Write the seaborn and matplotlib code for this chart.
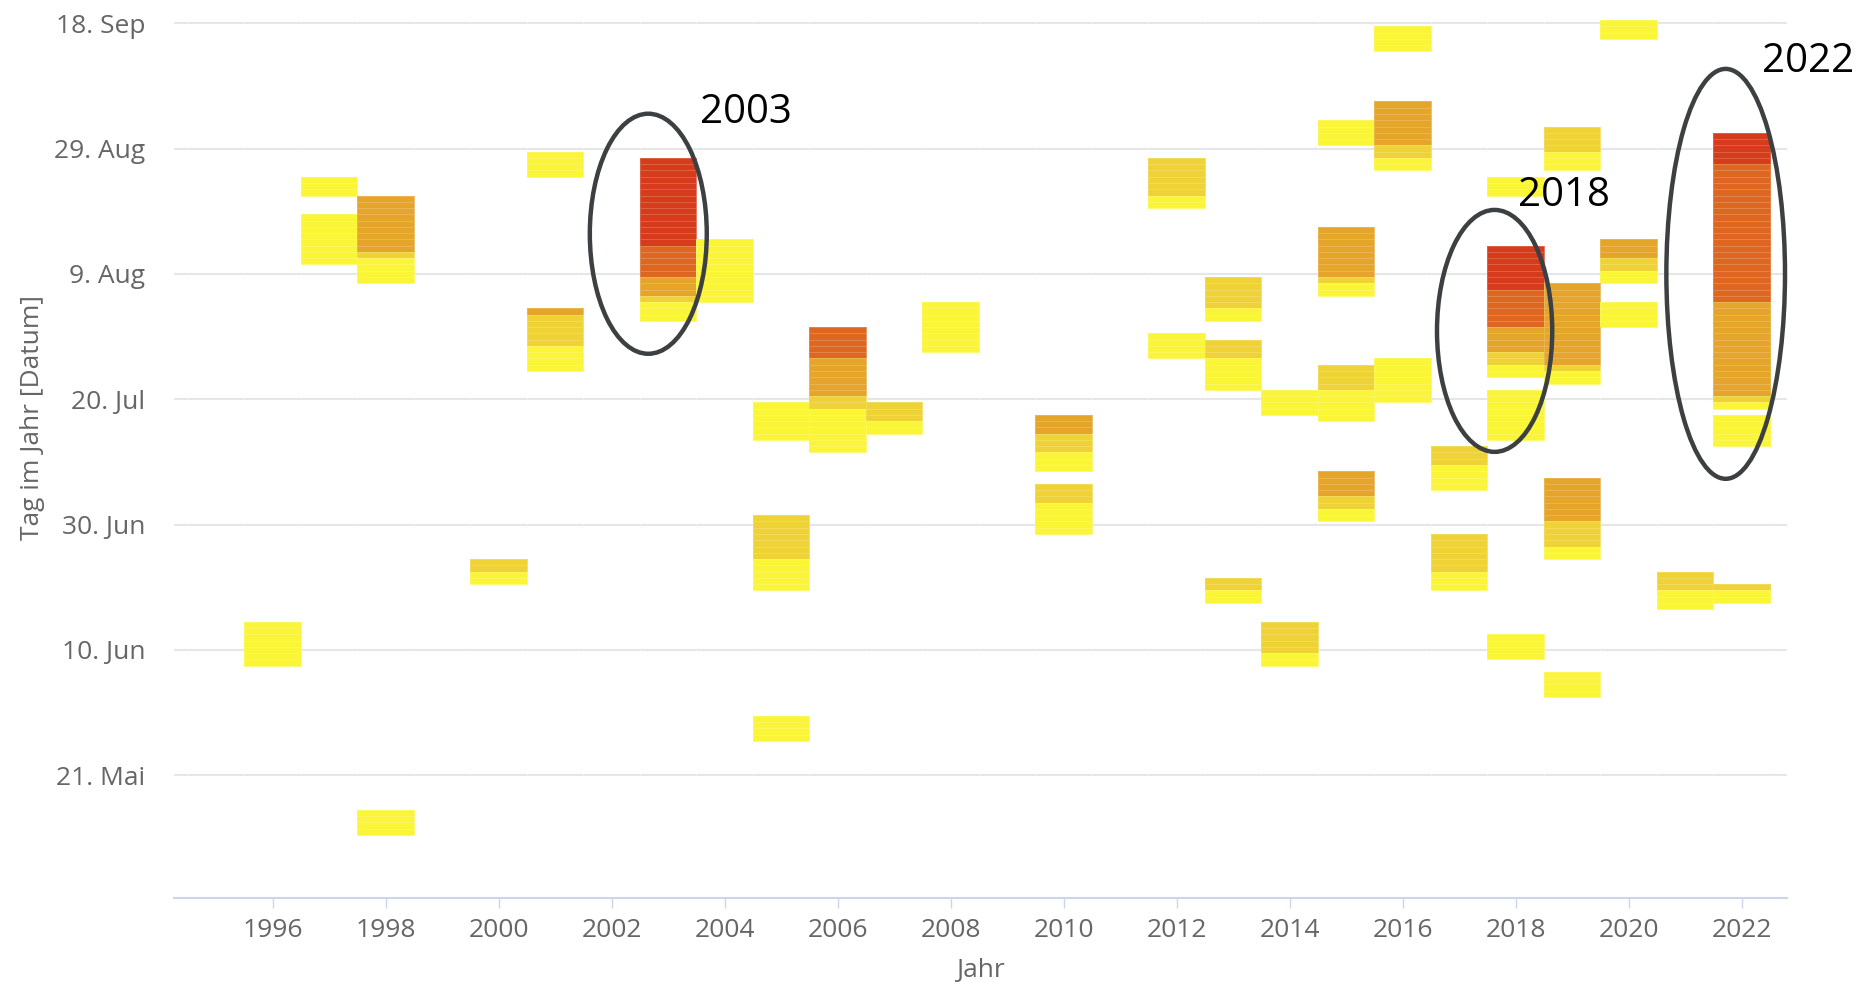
import numpy as np
import pandas as pd
import matplotlib
matplotlib.use("Agg")
import matplotlib.pyplot as plt
from matplotlib.colors import ListedColormap
from matplotlib.patches import Ellipse
import seaborn as sns

# Warm days per year: runs of days (day of year) with their heat class 1..5
seg_year = [1996,
            1997, 1997,
            1998, 1998, 1998, 1998,
            2000, 2000,
            2001, 2001, 2001, 2001,
            2003, 2003, 2003, 2003, 2003,
            2004,
            2005, 2005, 2005, 2005,
            2006, 2006, 2006, 2006,
            2007, 2007,
            2008,
            2010, 2010, 2010, 2010, 2010,
            2012, 2012, 2012,
            2013, 2013, 2013, 2013, 2013, 2013,
            2014, 2014, 2014,
            2015, 2015, 2015, 2015, 2015, 2015, 2015, 2015, 2015,
            2016, 2016, 2016, 2016, 2016,
            2017, 2017, 2017, 2017,
            2018, 2018, 2018, 2018, 2018, 2018, 2018, 2018,
            2019, 2019, 2019, 2019, 2019, 2019, 2019, 2019, 2019,
            2020, 2020, 2020, 2020, 2020,
            2021, 2021,
            2022, 2022, 2022, 2022, 2022, 2022, 2022, 2022]
seg_first = [159,
             234, 223,
             225, 224, 220, 132,
             174, 172,
             237, 215, 210, 206,
             226, 221, 218, 217, 214,
             217,
             195, 176, 171, 147,
             208, 202, 200, 193,
             198, 196,
             209,
             196, 193, 190, 185, 180,
             234, 232, 208,
             216, 214, 208, 203, 171, 169,
             199, 161, 159,
             242, 221, 220, 218, 203, 198, 186, 184, 182,
             257, 242, 240, 238, 201,
             191, 187, 174, 171,
             234, 219, 213, 209, 207, 205, 195, 160,
             241, 238, 207, 206, 204, 182, 178, 176, 154,
             259, 224, 222, 220, 213,
             171, 168,
             239, 217, 202, 201, 200, 194, 171, 169]
seg_last = [165,
            236, 230,
            233, 224, 223, 135,
            175, 173,
            240, 215, 214, 209,
            239, 225, 220, 217, 216,
            226,
            200, 182, 175, 150,
            212, 207, 201, 199,
            200, 197,
            216,
            198, 195, 192, 187, 184,
            239, 233, 211,
            220, 215, 210, 207, 172, 170,
            202, 165, 160,
            245, 228, 220, 219, 206, 202, 189, 185, 183,
            260, 248, 241, 239, 207,
            193, 190, 179, 173,
            236, 225, 218, 212, 208, 206, 202, 163,
            244, 240, 219, 206, 205, 188, 181, 177, 157,
            261, 226, 223, 221, 216,
            173, 170,
            243, 238, 216, 201, 200, 198, 171, 170]
seg_level = [1,
             1, 1,
             3, 2, 1, 1,
             2, 1,
             1, 3, 2, 1,
             5, 4, 3, 2, 1,
             1,
             1, 2, 1, 1,
             4, 3, 2, 1,
             2, 1,
             1,
             3, 2, 1, 2, 1,
             2, 1, 1,
             2, 1, 2, 1, 2, 1,
             1, 2, 1,
             1, 3, 2, 1, 2, 1, 3, 2, 1,
             1, 3, 2, 1, 1,
             2, 1, 2, 1,
             1, 5, 4, 3, 2, 1, 1, 1,
             2, 1, 3, 2, 1, 3, 2, 1, 1,
             1, 3, 2, 1, 1,
             2, 1,
             5, 4, 3, 2, 1, 1, 2, 1]

level_colors = ["#fbf537", "#eed236", "#e5a52b", "#dd6721", "#d63c1b"]

years_all = np.arange(1994, 2023)
days_all = np.arange(262, 121, -1)
xtick_years = list(range(1996, 2023, 2))
ytick_days = [141, 161, 181, 201, 221, 241, 261]
ytick_labels = ["21. Mai", "10. Jun", "30. Jun", "20. Jul", "9. Aug", "29. Aug", "18. Sep"]

# highlighted years: (label, ellipse centre year, centre day, width yr, height days, text year, text day)
highlights = [("2003", 2002.65, 227.4, 2.07, 38.3, 2003.57, 246.7),
              ("2018", 2017.63, 211.9, 2.04, 38.6, 2018.05, 233.5),
              ("2022", 2021.72, 221.0, 2.10, 65.4, 2022.36, 254.9)]

grid = pd.DataFrame(np.nan, index=days_all, columns=years_all)
for yr, a, b, lv in zip(seg_year, seg_first, seg_last, seg_level):
    grid.loc[b:a, yr] = lv


def xpos(year):
    return year - years_all[0] + 0.5


def ypos(day):
    return days_all[0] - day + 0.5


sns.set_style("white")
plt.rcParams["font.family"] = ["Liberation Sans Narrow", "Open Sans", "DejaVu Sans"]

fig = plt.figure(figsize=(18.59, 9.82), dpi=100)
ax = fig.add_axes([174.3 / 1859, 1 - 897.5 / 982, 1612.4 / 1859, 882.5 / 982])

for d in ytick_days:
    ax.axhline(ypos(d), color="#e6e6e6", lw=1.5, zorder=0.5)

sns.heatmap(grid, ax=ax, cmap=ListedColormap(level_colors), vmin=0.5, vmax=5.5,
            cbar=False, linewidths=0.6, linecolor=(1, 1, 1, 0.18),
            xticklabels=False, yticklabels=False)

ax.set_xlim(xpos(1994.26), xpos(2022.8))
ax.set_ylim(ypos(121.5), ypos(262.3))

ax.set_xticks([xpos(y) for y in xtick_years])
ax.set_xticklabels([str(y) for y in xtick_years], fontsize=19, color="#666666")
ax.set_yticks([ypos(d) for d in ytick_days])
ax.set_yticklabels(ytick_labels, fontsize=19, color="#666666")
ax.tick_params(axis="x", bottom=True, length=7, width=1, color="#ccd6eb", pad=8)
ax.tick_params(axis="y", left=False, length=0, pad=21)
ax.spines["bottom"].set_visible(True)
ax.spines["bottom"].set_color("#ccd6eb")
ax.spines["bottom"].set_linewidth(1.5)

ax.set_xlabel("Jahr", fontsize=19, color="#666666")
ax.xaxis.set_label_coords(0.5, -(970 - 897.5) / 882.5)
ax.xaxis.label.set_va("center")
ax.set_ylabel("Tag im Jahr [Datum]", fontsize=19, color="#666666")
ax.yaxis.set_label_coords(-0.088, (897.5 - 417) / 882.5)
ax.yaxis.label.set_va("center")

for label, cx, cy, w, h, tx, ty in highlights:
    ax.add_patch(Ellipse((xpos(cx), ypos(cy)), w, h, fill=False,
                         edgecolor="#3c4043", lw=3.2, zorder=5, clip_on=False))
    ax.text(xpos(tx), ypos(ty), label, fontsize=29, color="black",
            ha="left", va="center", zorder=6)

fig.savefig("out.png", dpi=100, facecolor="white")
